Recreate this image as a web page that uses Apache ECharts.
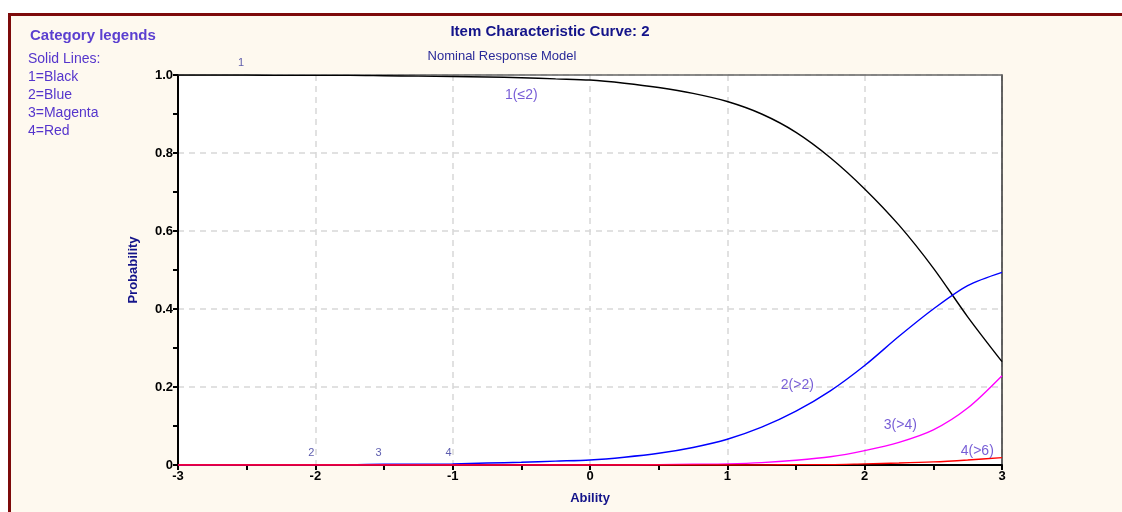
<!DOCTYPE html>
<html>
<head>
<meta charset="utf-8">
<script src="https://cdn.jsdelivr.net/npm/echarts@6/dist/echarts.min.js"></script>
<style>
  html, body { margin: 0; padding: 0; background: #fff; }
  #frame {
    position: absolute; left: 8px; top: 13px; width: 1114px; height: 499px;
    background: #fef9ef; border-top: 3px solid #7d0a0a; border-left: 3px solid #7d0a0a;
    box-sizing: border-box;
  }
  #chart { position: absolute; left: 0; top: 0; width: 1122px; height: 512px; }
</style>
</head>
<body>
<div id="frame"></div>
<div id="chart"></div>
<script>
const abilities = [-3, -2.75, -2.5, -2.25, -2, -1.75, -1.5, -1.25, -1, -0.75, -0.5, -0.25, 0,
  0.25, 0.5, 0.75, 1, 1.25, 1.5, 1.75, 2, 2.25, 2.5, 2.75, 3]
const cat1 = [1.0, 1.0, 1.0, 0.999, 0.999, 0.999, 0.998, 0.997, 0.996, 0.995, 0.993, 0.99, 0.987,
  0.979, 0.968, 0.953, 0.932, 0.9, 0.853, 0.788, 0.708, 0.615, 0.505, 0.38, 0.265]
const cat2 = [0, 0, 0.001, 0.001, 0.001, 0.001, 0.002, 0.002, 0.003, 0.005, 0.007, 0.01, 0.013,
  0.02, 0.03, 0.045, 0.066, 0.097, 0.138, 0.19, 0.255, 0.33, 0.4, 0.46, 0.494]
const cat3 = [0, 0, 0, 0, 0, 0, 0, 0, 0, 0, 0, 0, 0,
  0, 0.001, 0.002, 0.003, 0.006, 0.012, 0.021, 0.037, 0.058, 0.09, 0.146, 0.229]
const cat4 = [0, 0, 0, 0, 0, 0, 0, 0, 0, 0, 0, 0, 0,
  0, 0, 0, 0, 0, 0.001, 0.001, 0.003, 0.005, 0.008, 0.013, 0.019]

const curveLabels = ['1(≤2)', '2(>2)', '3(>4)', '4(>6)']
const curveLabelPos = [[-0.5, 0.949], [1.51, 0.205], [2.26, 0.103], [2.82, 0.036]]
const markerLabels = ['1', '2', '3', '4']
const markerPos = [[-2.54, 1.03], [-2.03, 0.03], [-1.54, 0.03], [-1.03, 0.03]]

const legendLines = ['Solid Lines:', '1=Black', '2=Blue', '3=Magenta', '4=Red']

const chart = echarts.init(document.getElementById('chart'))

function pairs(ys) {
  return abilities.map((x, i) => [x, ys[i]])
}

function curve(ys, color) {
  return {
    type: 'line',
    data: pairs(ys),
    smooth: 0.3,
    showSymbol: false,
    lineStyle: { color: color, width: 1.4 },
    z: 3
  }
}

function textLayer(names, pos, size, color) {
  return {
    type: 'scatter',
    symbolSize: 0,
    clip: false,
    silent: true,
    z: 5,
    data: names.map((n, i) => ({ value: pos[i], name: n })),
    label: {
      show: true,
      position: 'inside',
      formatter: '{b}',
      color: color,
      fontSize: size,
      fontFamily: 'Liberation Sans'
    }
  }
}

// plain frame edges on the top and right of the plot
function edgeAxis(pos, color) {
  return {
    type: 'value', position: pos, min: pos === 'top' ? -3 : 0, max: pos === 'top' ? 3 : 1,
    axisLine: { show: true, onZero: false, lineStyle: { color: color, width: 1.5 } },
    axisTick: { show: false }, axisLabel: { show: false }, splitLine: { show: false }
  }
}

const graphics = [
  {
    type: 'text', left: 30, top: 28,
    style: { text: 'Category legends', fill: '#5b3fd0', font: 'bold 15px "Liberation Sans"' }
  }
]
legendLines.forEach((t, i) => {
  graphics.push({
    type: 'text', left: 28, top: 52 + i * 18,
    style: { text: t, fill: '#5535cc', font: '14px "Liberation Sans"' }
  })
})

chart.setOption({
  animation: false,
  backgroundColor: 'transparent',
  title: [
    {
      text: 'Item Characteristic Curve: 2',
      left: 545, top: 19, textAlign: 'center',
      textStyle: { color: '#14148a', fontSize: 15, fontWeight: 'bold', fontFamily: 'Liberation Sans' }
    },
    {
      text: 'Nominal Response Model',
      left: 497, top: 45, textAlign: 'center',
      textStyle: { color: '#2a2a99', fontSize: 13, fontWeight: 'normal', fontFamily: 'Liberation Sans' }
    }
  ],
  graphic: graphics,
  grid: {
    left: 178, right: 120, top: 75, bottom: 47,
    show: true, backgroundColor: '#fff', borderWidth: 0
  },
  xAxis: [
    {
      type: 'value', min: -3, max: 3, interval: 1,
      name: 'Ability', nameLocation: 'middle', nameGap: 27,
      nameTextStyle: { color: '#14148a', fontWeight: 'bold', fontSize: 13, fontFamily: 'Liberation Sans' },
      axisLine: { onZero: false, lineStyle: { color: '#000', width: 2 } },
      axisTick: { show: true, length: 5, lineStyle: { color: '#000', width: 2 } },
      minorTick: { show: true, splitNumber: 2, length: 5, lineStyle: { color: '#000', width: 2 } },
      axisLabel: { color: '#000', fontWeight: 'bold', fontSize: 13, margin: 5, fontFamily: 'Liberation Sans' },
      splitLine: { show: true, lineStyle: { color: '#d8d8d8', type: [6, 5], width: 1.5 } }
    },
    edgeAxis('top', '#666')
  ],
  yAxis: [
    {
      type: 'value', min: 0, max: 1, interval: 0.2,
      name: 'Probability', nameLocation: 'middle', nameGap: 38, nameRotate: 90,
      nameTextStyle: { color: '#14148a', fontWeight: 'bold', fontSize: 13, fontFamily: 'Liberation Sans' },
      axisLine: { show: true, onZero: false, lineStyle: { color: '#000', width: 2 } },
      axisTick: { show: true, length: 5, lineStyle: { color: '#000', width: 2 } },
      minorTick: { show: true, splitNumber: 2, length: 5, lineStyle: { color: '#000', width: 2 } },
      axisLabel: {
        color: '#000', fontWeight: 'bold', fontSize: 13, margin: 5, fontFamily: 'Liberation Sans',
        formatter: v => (v === 0 ? '0' : v.toFixed(1))
      },
      splitLine: { show: true, lineStyle: { color: '#d8d8d8', type: [6, 5], width: 1.5 } }
    },
    edgeAxis('right', '#333')
  ],
  series: [
    curve(cat1, '#000000'),
    curve(cat2, '#0000ff'),
    curve(cat3, '#ff00ff'),
    curve(cat4, '#ff0000'),
    textLayer(curveLabels, curveLabelPos, 14, '#5535cc'),
    textLayer(markerLabels, markerPos, 11, '#33339a')
  ]
})
</script>
</body>
</html>
